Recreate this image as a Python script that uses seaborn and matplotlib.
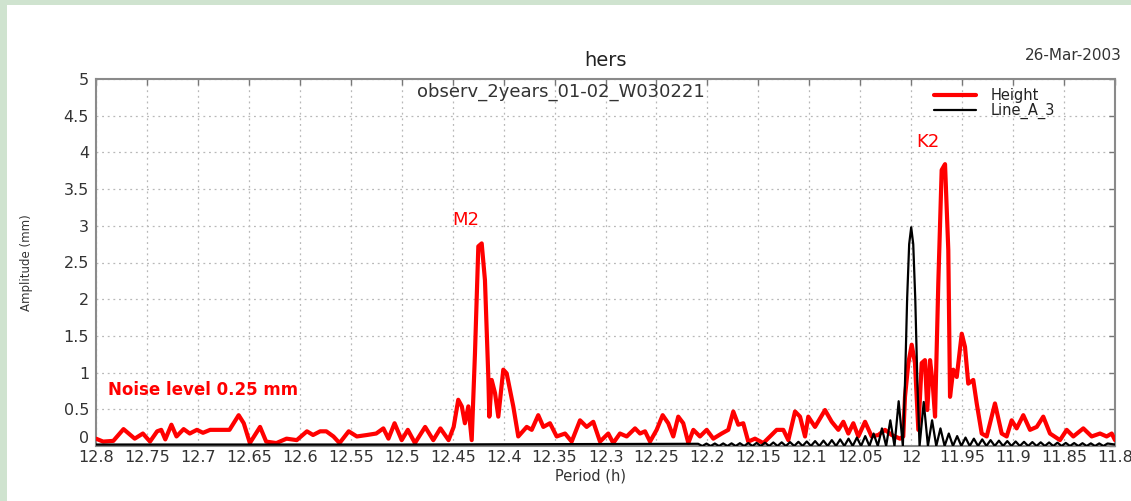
import matplotlib
matplotlib.use("Agg")
import matplotlib.pyplot as plt
from matplotlib.patches import Rectangle
import seaborn as sns
import pandas as pd

# ---------------- data ----------------
red_period = [12.800, 12.793, 12.783, 12.773, 12.768, 12.762, 12.754, 12.747, 12.740, 12.736,
              12.732, 12.726, 12.721, 12.714, 12.708, 12.701, 12.695, 12.688, 12.682, 12.675,
              12.669, 12.660, 12.655, 12.649, 12.639, 12.633, 12.623, 12.613, 12.603, 12.593,
              12.587, 12.580, 12.574, 12.567, 12.561, 12.552, 12.544, 12.534, 12.525, 12.518,
              12.513, 12.507, 12.500, 12.494, 12.487, 12.477, 12.469, 12.462, 12.454, 12.449,
              12.4445, 12.441, 12.438, 12.4346, 12.4313, 12.4281, 12.4248, 12.4215, 12.4183, 12.415,
              12.414, 12.4117, 12.4084, 12.4052, 12.4003, 12.397, 12.3937, 12.3905, 12.3856, 12.3773,
              12.3724, 12.366, 12.361, 12.3545, 12.3479, 12.3397, 12.3332, 12.325, 12.3185, 12.312,
              12.3054, 12.2973, 12.2924, 12.2858, 12.2792, 12.271, 12.2661, 12.2612, 12.2563, 12.2498,
              12.2439, 12.2384, 12.2335, 12.2286, 12.2237, 12.2187, 12.2138, 12.2073, 12.2007, 12.1942,
              12.186, 12.1795, 12.1746, 12.1697, 12.1648, 12.1599, 12.1533, 12.1451, 12.1386, 12.132,
              12.1255, 12.1206, 12.114, 12.1091, 12.1042, 12.101, 12.0944, 12.0846, 12.078, 12.0715,
              12.0666, 12.0617, 12.0568, 12.0519, 12.0453, 12.0388, 12.0323, 12.0257, 12.0191, 12.011,
              12.0078, 12.0061, 12.0028, 11.9995, 11.9963, 11.993, 11.9897, 11.9865, 11.9842, 11.9815,
              11.9789, 11.9766, 11.9734, 11.9701, 11.9668, 11.9636, 11.9619, 11.9587, 11.9553, 11.9504,
              11.9472, 11.944, 11.9391, 11.9357, 11.9308, 11.9259, 11.9178, 11.9112, 11.9063, 11.9014,
              11.8965, 11.89, 11.8834, 11.8768, 11.8704, 11.8638, 11.854, 11.8474, 11.8409, 11.8311,
              11.8229, 11.8147, 11.8082, 11.8032, 11.800]
red_amp = [0.10, 0.06, 0.07, 0.23, 0.17, 0.10, 0.17, 0.06, 0.20, 0.22,
           0.09, 0.29, 0.13, 0.23, 0.17, 0.22, 0.18, 0.22, 0.22, 0.22,
           0.22, 0.42, 0.31, 0.04, 0.26, 0.06, 0.04, 0.10, 0.08, 0.20,
           0.15, 0.20, 0.20, 0.13, 0.04, 0.20, 0.13, 0.15, 0.17, 0.24,
           0.10, 0.31, 0.08, 0.22, 0.04, 0.26, 0.08, 0.24, 0.08, 0.26,
           0.63, 0.54, 0.31, 0.54, 0.08, 1.26, 2.72, 2.76, 2.26, 0.94,
           0.40, 0.90, 0.72, 0.40, 1.04, 0.99, 0.76, 0.54, 0.13, 0.26,
           0.22, 0.42, 0.26, 0.31, 0.13, 0.17, 0.06, 0.35, 0.26, 0.33,
           0.06, 0.17, 0.04, 0.17, 0.13, 0.24, 0.17, 0.20, 0.06, 0.22,
           0.42, 0.31, 0.13, 0.40, 0.31, 0.04, 0.22, 0.13, 0.22, 0.10,
           0.17, 0.22, 0.47, 0.29, 0.31, 0.06, 0.10, 0.04, 0.13, 0.22,
           0.22, 0.08, 0.47, 0.40, 0.13, 0.40, 0.26, 0.49, 0.33, 0.22,
           0.33, 0.17, 0.31, 0.13, 0.33, 0.13, 0.15, 0.22, 0.15, 0.10,
           0.13, 0.67, 1.13, 1.38, 1.13, 0.22, 1.13, 1.17, 0.49, 1.17,
           0.85, 0.40, 2.22, 3.76, 3.84, 2.67, 0.67, 1.04, 0.94, 1.53,
           1.35, 0.85, 0.90, 0.58, 0.17, 0.13, 0.58, 0.17, 0.13, 0.35,
           0.24, 0.42, 0.22, 0.26, 0.40, 0.17, 0.08, 0.22, 0.13, 0.24,
           0.13, 0.17, 0.13, 0.17, 0.08]

black_period = [12.80, 12.50, 12.2091,
                12.2050, 12.2009, 12.1968, 12.1927, 12.1886, 12.1845, 12.1804, 12.1763,
                12.1722, 12.1681, 12.1640, 12.1599, 12.1558, 12.1517, 12.1476, 12.1435,
                12.1394, 12.1353, 12.1312, 12.1271, 12.1230, 12.1189, 12.1148, 12.1107,
                12.1066, 12.1025, 12.0984, 12.0943, 12.0902, 12.0861, 12.0820, 12.0779,
                12.0738, 12.0697, 12.0656, 12.0615, 12.0574, 12.0533, 12.0492, 12.0451,
                12.0410, 12.0369, 12.0328, 12.0287, 12.0246, 12.0205, 12.0164, 12.0123,
                12.0082,
                12.0060, 12.0040, 12.0020, 12.0000, 11.9980, 11.9960, 11.9940, 11.9918,
                11.9877, 11.9836, 11.9795, 11.9754, 11.9713, 11.9672, 11.9631, 11.9590,
                11.9549, 11.9508, 11.9467, 11.9426, 11.9385, 11.9344, 11.9303, 11.9262,
                11.9221, 11.9180, 11.9139, 11.9098, 11.9057, 11.9016, 11.8975, 11.8934,
                11.8893, 11.8852, 11.8811, 11.8770, 11.8729, 11.8688, 11.8647, 11.8606,
                11.8565, 11.8524, 11.8483, 11.8442, 11.8401, 11.8360, 11.8319, 11.8278,
                11.8237, 11.8196, 11.8155, 11.8114, 11.8073, 11.8000]
black_amp = [0.02, 0.02, 0.03,
             0.0, 0.033, 0.0, 0.034, 0.0, 0.035, 0.0, 0.036,
             0.0, 0.038, 0.0, 0.040, 0.0, 0.042, 0.0, 0.045,
             0.0, 0.048, 0.0, 0.050, 0.0, 0.053, 0.0, 0.057,
             0.0, 0.062, 0.0, 0.067, 0.0, 0.073, 0.0, 0.080,
             0.0, 0.090, 0.0, 0.100, 0.0, 0.115, 0.0, 0.135,
             0.0, 0.170, 0.0, 0.240, 0.0, 0.350, 0.0, 0.610,
             0.0,
             0.90, 2.00, 2.75, 2.98, 2.75, 2.00, 0.90, 0.0,
             0.600, 0.0, 0.350, 0.0, 0.240, 0.0, 0.170, 0.0,
             0.135, 0.0, 0.115, 0.0, 0.100, 0.0, 0.090, 0.0,
             0.080, 0.0, 0.073, 0.0, 0.067, 0.0, 0.062, 0.0,
             0.057, 0.0, 0.053, 0.0, 0.050, 0.0, 0.048, 0.0,
             0.045, 0.0, 0.042, 0.0, 0.040, 0.0, 0.038, 0.0,
             0.036, 0.0, 0.035, 0.0, 0.034, 0.02]
assert len(red_period) == len(red_amp)
assert len(black_period) == len(black_amp)

series_names = ["Height", "Line_A_3"]
series_colors = ["#ff0000", "#000000"]

x_ticks = [12.8, 12.75, 12.7, 12.65, 12.6, 12.55, 12.5, 12.45, 12.4, 12.35, 12.3,
           12.25, 12.2, 12.15, 12.1, 12.05, 12.0, 11.95, 11.9, 11.85, 11.8]
x_tick_labels = ["12.8", "12.75", "12.7", "12.65", "12.6", "12.55", "12.5", "12.45", "12.4",
                 "12.35", "12.3", "12.25", "12.2", "12.15", "12.1", "12.05", "12", "11.95",
                 "11.9", "11.85", "11.8"]
y_ticks = [0, 0.5, 1, 1.5, 2, 2.5, 3, 3.5, 4, 4.5, 5]
y_tick_labels = ["0", "0.5", "1", "1.5", "2", "2.5", "3", "3.5", "4", "4.5", "5"]

peak_labels = ["M2", "K2"]
peak_label_period = [12.437, 11.9835]
peak_label_amp = [3.08, 4.14]

# ---------------- style ----------------
sns.set_style("white")
plt.rcParams["font.family"] = ["DejaVu Sans"]

W, H = 1131, 501
fig = plt.figure(figsize=(W / 100, H / 100), dpi=100, facecolor="#cfe3cf")
fig.patches.append(Rectangle((7 / W, 0), 1, (H - 5) / H, transform=fig.transFigure,
                             facecolor="white", edgecolor="none", zorder=-1))

ax = fig.add_axes([96 / W, (H - 446) / H, (1115 - 96) / W, (446 - 79) / H])
ax.set_facecolor("white")

df_red = pd.DataFrame({"Period": red_period, "Amplitude": red_amp})
df_black = pd.DataFrame({"Period": black_period, "Amplitude": black_amp})

sns.lineplot(data=df_red, x="Period", y="Amplitude", ax=ax, sort=False, estimator=None,
             color=series_colors[0], linewidth=3.0, label=series_names[0], zorder=3)
sns.lineplot(data=df_black, x="Period", y="Amplitude", ax=ax, sort=False, estimator=None,
             color=series_colors[1], linewidth=1.6, label=series_names[1], zorder=4)

ax.set_xlim(12.8, 11.8)
ax.set_ylim(0, 5)
ax.set_xticks(x_ticks)
ax.set_xticklabels(x_tick_labels)
ax.set_yticks(y_ticks)
ax.set_yticklabels(y_tick_labels)
# lift the "0" label a little so it sits clear of the first period label
ax.get_yticklabels()[0].set_verticalalignment("bottom")

ax.grid(True, color="#b8b8b8", linestyle=(0, (1.5, 3)), linewidth=0.9)
ax.tick_params(axis="both", direction="in", length=4, width=1, color="#777777",
               top=True, right=True, labelcolor="#333333")
ax.tick_params(axis="x", pad=3, labelsize=11.5)
ax.tick_params(axis="y", pad=5, labelsize=11.5)
for s in ax.spines.values():
    s.set_color("#8a8a8a")
    s.set_linewidth(1.5)

ax.set_title("hers", fontsize=14, color="#222222", pad=9)
ax.set_xlabel("Period (h)", fontsize=10.5, color="#333333")
ax.xaxis.set_label_coords(0.485, -0.062)
ax.set_ylabel("Amplitude (mm)", fontsize=8.5, color="#333333")
ax.yaxis.set_label_coords((33 - 96) / 1019, 0.5)

ax.text(0.456, 0.966, "observ_2years_01-02_W030221", transform=ax.transAxes,
        ha="center", va="center", fontsize=13, color="#333333")
fig.text(1025 / W, (H - 55) / H, "26-Mar-2003", ha="left", va="center",
         fontsize=11, color="#333333")

for lab, px, py in zip(peak_labels, peak_label_period, peak_label_amp):
    ax.text(px, py, lab, ha="center", va="center", fontsize=13, color="#ff0000")

ax.text(12.788, 0.76, "Noise level 0.25 mm", ha="left", va="center",
        fontsize=12, fontweight="bold", color="#ff0000")

leg = ax.legend(loc="upper left", bbox_to_anchor=((925 - 96) / 1019, 1.0), frameon=False,
                fontsize=10.5, handlelength=2.9, handletextpad=1.0, labelspacing=0.0,
                borderaxespad=0.2)
for t in leg.get_texts():
    t.set_color("#222222")

fig.savefig("out.png", dpi=100, facecolor=fig.get_facecolor())
